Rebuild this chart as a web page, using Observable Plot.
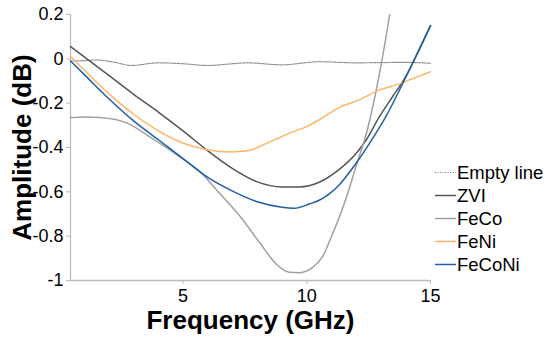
<!DOCTYPE html>
<html>
<head>
<meta charset="utf-8">
<script src="https://cdn.jsdelivr.net/npm/d3@7"></script>
<script src="https://cdn.jsdelivr.net/npm/@observablehq/plot@0.6"></script>
<style>
  html, body { margin: 0; padding: 0; background: #fff; }
  #wrap { position: relative; width: 550px; height: 337px; font-family: "Liberation Sans", Arial, sans-serif; }
  #legend { position: absolute; left: 435px; top: 161px; font-size: 18.5px; color: #000; }
  .row { height: 23px; line-height: 23px; display: flex; align-items: center; white-space: nowrap; }
  .row svg { width: 22px; height: 23px; flex: none; }
</style>
</head>
<body>
<div id="wrap"></div>
<script>
// ---- data ----
const emptyX = [0.45, 1, 1.5, 2.2, 2.9, 4, 5, 6, 7, 7.6, 9, 10.5, 12, 13, 14, 15];
const emptyY = [-0.01, -0.008, -0.005, -0.015, -0.03, -0.018, -0.022, -0.03, -0.022, -0.018, -0.027, -0.013, -0.018, -0.017, -0.016, -0.02];

const zviX = [0.45, 2, 3, 4, 5, 6, 7, 8, 9, 9.7, 10.5, 11.3, 12, 12.4, 12.94, 13.47, 14, 14.5, 15];
const zviY = [0.055, -0.075, -0.16, -0.24, -0.325, -0.415, -0.495, -0.555, -0.578, -0.578, -0.557, -0.5, -0.426, -0.366, -0.26, -0.17, -0.08, 0.03, 0.15];

const fecoX = [0.45, 1, 1.65, 2.74, 3.67, 4.88, 5.69, 6.5, 7.3, 8.1, 8.8, 9.3, 9.7, 10.25, 10.65, 11.0, 11.33, 11.73, 12.06, 12.4, 13.0, 13.35];
const fecoY = [-0.265, -0.262, -0.265, -0.29, -0.353, -0.443, -0.51, -0.61, -0.71, -0.83, -0.93, -0.963, -0.965, -0.94, -0.89, -0.8, -0.71, -0.58, -0.46, -0.34, -0.03, 0.2];

const feniX = [0.45, 1, 2.18, 3, 3.79, 4.88, 5.97, 6.9, 7.6, 8.4, 9.3, 10.1, 10.5, 11.3, 12.1, 12.94, 13.75, 14.15, 15];
const feniY = [0.01, -0.05, -0.175, -0.25, -0.31, -0.375, -0.41, -0.42, -0.415, -0.38, -0.335, -0.3, -0.275, -0.22, -0.186, -0.14, -0.113, -0.095, -0.058];

const fecoNiX = [0.45, 1, 2, 3, 4, 5, 6, 7, 8, 9, 9.5, 10.1, 10.5, 11.3, 12, 12.6, 13.2, 13.75, 14.27, 15];
const fecoNiY = [-0.01, -0.07, -0.18, -0.28, -0.365, -0.45, -0.535, -0.597, -0.645, -0.67, -0.674, -0.655, -0.638, -0.57, -0.47, -0.37, -0.26, -0.14, -0.02, 0.15];

const seriesNames = ["Empty line", "ZVI", "FeCo", "FeNi", "FeCoNi"];
const seriesColors = ["#8a8a8a", "#555555", "#a0a0a0", "#ffb468", "#1f5fa8"];
const seriesDash = ["1.2,1.3", null, null, null, null];
const xTicks = [5, 10, 15];
const yTicks = [-1, -0.8, -0.6, -0.4, -0.2, 0, 0.2];
const xDomain = [0.45, 15];
const yDomain = [-1, 0.2];
const xTitle = "Frequency (GHz)";
const yTitle = "Amplitude (dB)";

const seriesXs = [emptyX, zviX, fecoX, feniX, fecoNiX];
const seriesYs = [emptyY, zviY, fecoY, feniY, fecoNiY];
const tables = seriesXs.map((xs, i) => xs.map((x, j) => ({x, y: seriesYs[i][j]})));

const axisGray = "#bcbcbc";
const font = "Liberation Sans, Arial, sans-serif";

const lineMarks = tables.map((t, i) => Plot.line(t, {
  x: "x", y: "y", stroke: seriesColors[i], strokeWidth: i === 0 ? 1.2 : 1.5,
  strokeDasharray: seriesDash[i] || undefined, curve: "monotone-x"
}));

const chart = Plot.plot({
  width: 550, height: 337,
  marginLeft: 70, marginRight: 120, marginTop: 14, marginBottom: 57,
  style: {fontFamily: font, background: "#fff", overflow: "visible"},
  x: {domain: xDomain},
  y: {domain: yDomain},
  marks: [
    Plot.ruleX([xDomain[0]], {stroke: axisGray, strokeWidth: 1.3}),
    Plot.ruleY([yDomain[0]], {stroke: axisGray, strokeWidth: 1.3}),
    Plot.axisY({ticks: yTicks, tickSize: 4, tickPadding: 3, fontSize: 18, stroke: axisGray, fill: "#000", label: null,
      tickFormat: d => String(Math.round(d * 10) / 10)}),
    Plot.axisX({ticks: xTicks, tickSize: 4, tickPadding: 5, fontSize: 18, stroke: axisGray, fill: "#000", label: null,
      tickFormat: d => String(d)}),
    ...lineMarks,
    Plot.text([xTitle], {frameAnchor: "bottom", dy: 40, text: d => d, fontSize: 26, fontWeight: "bold", fill: "#000", lineAnchor: "middle", textAnchor: "middle"}),
    Plot.text([yTitle], {frameAnchor: "left", dx: -48, rotate: -90, text: d => d, fontSize: 26, fontWeight: "bold", fill: "#000", lineAnchor: "middle", textAnchor: "middle"})
  ]
});

const wrap = document.getElementById("wrap");
wrap.appendChild(chart);

const legend = document.createElement("div");
legend.id = "legend";
seriesNames.forEach((name, i) => {
  const row = document.createElement("div");
  row.className = "row";
  const dash = seriesDash[i] ? ` stroke-dasharray="${seriesDash[i]}"` : "";
  row.innerHTML = `<svg viewBox="0 0 22 23"><line x1="0" x2="21" y1="11.5" y2="11.5" stroke="${seriesColors[i]}" stroke-width="${i === 0 ? 1.2 : 1.5}"${dash}/></svg><span>${name}</span>`;
  legend.appendChild(row);
});
wrap.appendChild(legend);
</script>
</body>
</html>
